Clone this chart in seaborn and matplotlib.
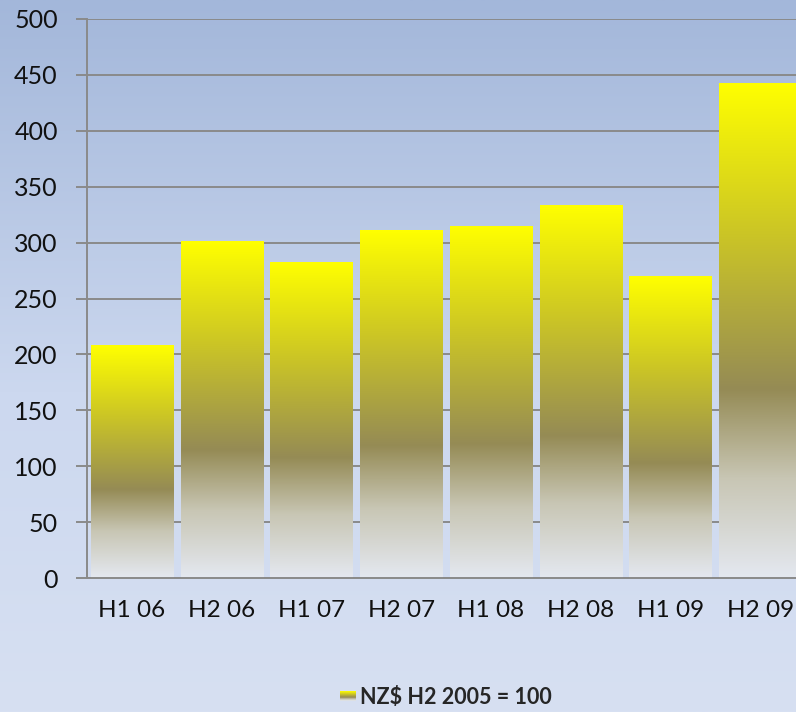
import numpy as np
import pandas as pd
import matplotlib
matplotlib.use("Agg")
import matplotlib.pyplot as plt
import seaborn as sns
from matplotlib.colors import LinearSegmentedColormap
from matplotlib.legend_handler import HandlerBase
from matplotlib.patches import Rectangle, Patch

categories = ["H1 06", "H2 06", "H1 07", "H2 07", "H1 08", "H2 08", "H1 09", "H2 09"]
values = [208, 301, 283, 311, 315, 334, 270, 443]
series_name = "NZ$ H2 2005 = 100"
y_ticks = [0, 50, 100, 150, 200, 250, 300, 350, 400, 450, 500]

sns.set_theme(style="white")
plt.rcParams['font.family'] = ['Lato', 'DejaVu Sans']

W, H = 796, 712
fig = plt.figure(figsize=(W / 100, H / 100), dpi=100)

# background gradient
bg = fig.add_axes([0, 0, 1, 1], zorder=-10)
bg_cmap = LinearSegmentedColormap.from_list(
    "bg", [(0.0, "#d7e0f2"), (0.45, "#ccd8ef"), (1.0, "#a3b7da")])
bg.imshow(np.linspace(0, 1, 256).reshape(-1, 1), aspect="auto", cmap=bg_cmap,
          origin="lower", extent=[0, 1, 0, 1])
bg.axis("off")

ax = fig.add_axes([87 / W, 1 - 578 / H, 718 / W, 559 / H])
ax.patch.set_alpha(0)

df = pd.DataFrame({"cat": categories, "val": values})
sns.barplot(data=df, x="cat", y="val", ax=ax, width=0.915, color="#ffff00",
            edgecolor="none", linewidth=0, zorder=3)

ax.set_ylim(0, 500)
ax.set_xlim(-0.5, len(categories) - 0.5)
ax.set_yticks(y_ticks)
ax.set_xlabel("")
ax.set_ylabel("")

bar_cmap = LinearSegmentedColormap.from_list(
    "bar", [(0.0, "#e4e8f0"), (0.2, "#c8c6b4"), (0.38, "#958b55"),
            (0.7, "#ccc625"), (1.0, "#ffff00")])
grad = np.linspace(0, 1, 256).reshape(-1, 1)
for p in ax.patches:
    x0, y0 = p.get_x(), p.get_y()
    w, h = p.get_width(), p.get_height()
    im = ax.imshow(grad, aspect="auto", cmap=bar_cmap, origin="lower",
                   extent=[x0, x0 + w, y0, y0 + h], zorder=3)
    im.set_clip_path(p)
    p.set_facecolor("none")
ax.set_xlim(-0.5, len(categories) - 0.5)
ax.set_ylim(0, 500)

ax.grid(axis="y", color="#8a8a8a", linewidth=1.4, zorder=1)
ax.set_axisbelow(True)
for s in ["top", "right"]:
    ax.spines[s].set_visible(False)
for s in ["left", "bottom"]:
    ax.spines[s].set_color("#8a8a8a")
    ax.spines[s].set_linewidth(1.4)
    ax.spines[s].set_zorder(4)

ax.set_xticks(np.arange(len(categories)) - 0.5, minor=True)
ax.tick_params(axis="x", which="major", length=0, pad=16, labelsize=17.5, colors="#111111")
ax.tick_params(axis="x", which="minor", length=7, width=1.4, color="#8a8a8a", direction="out")
ax.tick_params(axis="y", length=8, width=1.4, color="#8a8a8a", direction="out",
               labelsize=18, pad=13, colors="#111111", left=True)
for t in ax.get_xticklabels() + ax.get_yticklabels():
    t.set_color("#111111")


class GradHandler(HandlerBase):
    def create_artists(self, legend, orig_handle, xdescent, ydescent, width, height, fontsize, trans):
        arts = []
        n = 10
        hh = height * 0.75
        yb = -ydescent + (height - hh) / 2
        for i in range(n):
            r = Rectangle((-xdescent, yb + hh * i / n), width, hh / n + 0.01,
                          facecolor=bar_cmap((i + 0.5) / n), edgecolor="none", transform=trans)
            arts.append(r)
        return arts


h = Patch(label=series_name)
leg = fig.legend([h], [series_name], loc="center", bbox_to_anchor=(446 / W, 1 - 697 / H),
                 frameon=False, handler_map={Patch: GradHandler()},
                 prop={"weight": "bold", "size": 15.5}, handlelength=0.75, handleheight=0.6,
                 handletextpad=0.2)

fig.savefig("out.png", dpi=100)
